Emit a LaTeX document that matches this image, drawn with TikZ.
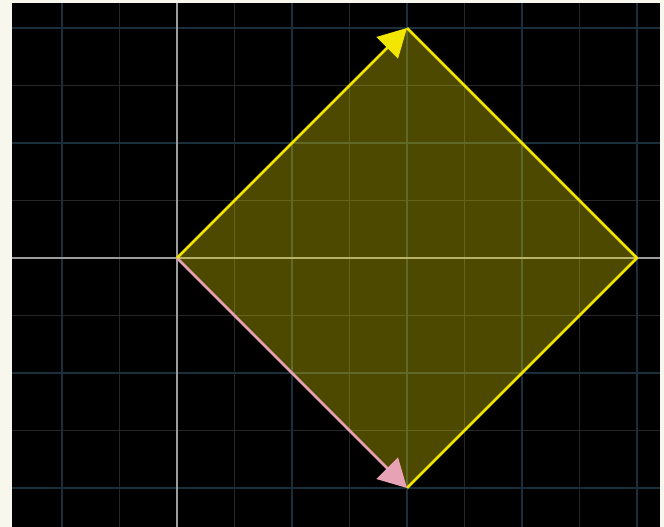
\documentclass[tikz,border=0pt]{standalone}
\usetikzlibrary{arrows.meta}
\definecolor{bordercol}{HTML}{F7F7EE}
\definecolor{majorgrid}{HTML}{1A2E3C}
\definecolor{minorgrid}{HTML}{262626}
\definecolor{axiscol}{HTML}{9C9C9C}
\definecolor{vecyellow}{HTML}{F2E600}
\definecolor{vecpink}{HTML}{E8A2B6}
\tikzset{
  minorline/.style={minorgrid, line width=1.5pt},
  majorline/.style={majorgrid, line width=2pt},
  axisline/.style={axiscol, line width=2.5pt},
  edgeline/.style={vecyellow, line width=2.5pt},
  yvec/.style={vecyellow, line width=2.5pt, -{Triangle[length=28pt,width=30pt]}},
  pvec/.style={vecpink, line width=2.5pt, -{Triangle[length=28pt,width=30pt]}},
}
\begin{document}
\begin{tikzpicture}[x=1pt,y=-1pt]
\useasboundingbox (0,0) rectangle (664,527);
\fill[bordercol] (0,0) rectangle (664,527);
\fill[black] (12,3) rectangle (660,527);
\begin{scope}
\clip (12,3) rectangle (660,527);
\foreach \x in {119.5,234.5,349.5,464.5,579.5} \draw[minorline] (\x,3) -- (\x,527);
\foreach \y in {85.5,200.5,315.5,430.5} \draw[minorline] (12,\y) -- (660,\y);
\foreach \x in {62,292,407,522,637} \draw[majorline] (\x,3) -- (\x,527);
\foreach \y in {28,143,373,488} \draw[majorline] (12,\y) -- (660,\y);
\draw[axisline] (177,3) -- (177,527);
\draw[axisline] (12,258) -- (660,258);
\end{scope}
\coordinate (O) at (177,258);
\coordinate (A) at (407,28);
\coordinate (R) at (637,258);
\coordinate (B) at (407,488);
\fill[vecyellow, fill opacity=0.32] (O) -- (A) -- (R) -- (B) -- cycle;
\draw[edgeline, line join=round] (A) -- (R) -- (B);
\draw[pvec] (O) -- (B);
\draw[yvec] (O) -- (A);
\end{tikzpicture}
\end{document}
